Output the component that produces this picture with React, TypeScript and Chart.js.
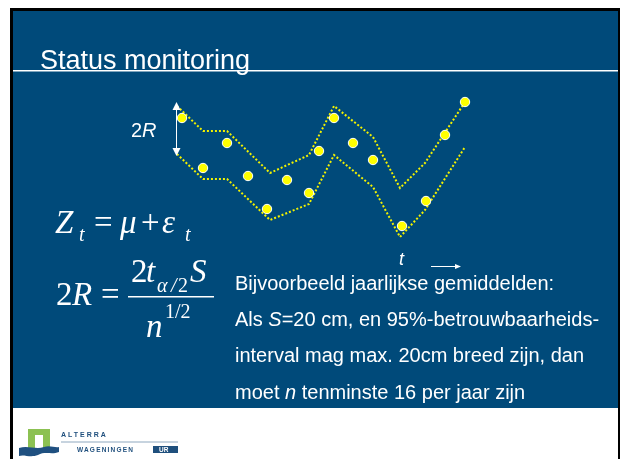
import React, { useEffect, useRef } from "react";
import { Chart, registerables } from "chart.js";

Chart.register(...registerables);

// ---- data (time index / value, arbitrary units) ----
const timeIndex = [1.2, 3.3, 5.7, 7.8, 9.7, 11.7, 13.9, 14.9, 16.4, 18.3, 20.3, 23.2, 25.6, 27.5, 29.5];
const yearlyValues = [13.2, 8.2, 10.7, 7.4, 4.1, 7.0, 5.7, 9.9, 13.2, 10.7, 9.0, 2.4, 4.9, 11.5, 14.8];
const bandTimes = [0.7, 3.3, 5.7, 10.0, 13.9, 16.4, 20.3, 23.0, 25.5, 29.5];
const upperBand = [14.4, 11.9, 11.9, 7.7, 9.5, 14.4, 11.3, 6.2, 8.7, 14.8];
const lowerBand = [9.6, 7.1, 7.1, 3.0, 4.6, 9.5, 6.3, 1.3, 4.0, 10.3];

const titleText = "Status monitoring";
const bodyLines: { t: string; i?: boolean }[][] = [
  [{ t: "Bijvoorbeeld jaarlijkse gemiddelden:" }],
  [{ t: "Als " }, { t: "S", i: true }, { t: "=20 cm, en 95%-betrouwbaarheids-" }],
  [{ t: "interval mag max. 20cm breed zijn, dan" }],
  [{ t: "moet " }, { t: "n", i: true }, { t: " tenminste 16 per jaar zijn" }],
];

const BLUE = "#004a7a";
const YELLOW = "#ffff00";
const SANS = "'Liberation Sans', Arial, sans-serif";
const SERIF = "'Liberation Serif', 'Times New Roman', serif";

const slidePlugin = {
  id: "slide",
  beforeDraw(chart: any) {
    const ctx = chart.ctx as CanvasRenderingContext2D;
    ctx.save();
    ctx.fillStyle = "#ffffff";
    ctx.fillRect(0, 0, 620, 459);
    ctx.fillStyle = "#000000";
    ctx.fillRect(10, 8, 610, 3);
    ctx.fillRect(10, 8, 3, 451);
    ctx.fillRect(618, 8, 2, 451);
    ctx.fillStyle = BLUE;
    ctx.fillRect(13, 11, 605, 397);
    // title rule
    ctx.fillStyle = "#ffffff";
    ctx.fillRect(13, 70, 605, 1.5);
    ctx.restore();
  },
  afterDraw(chart: any) {
    const ctx = chart.ctx as CanvasRenderingContext2D;
    ctx.save();
    ctx.fillStyle = "#ffffff";
    ctx.textBaseline = "alphabetic";
    ctx.textAlign = "left";

    const txt = (s: string, x: number, y: number, font: string) => {
      ctx.font = font;
      ctx.fillText(s, x, y);
    };

    // title
    txt(titleText, 40, 69, `27px ${SANS}`);

    // formula 1: Z_t = mu + eps_t
    const big = 33;
    txt("Z", 55, 233, `italic ${big}px ${SERIF}`);
    txt("t", 79, 241, `italic 20px ${SERIF}`);
    txt("=", 94, 233, `${big}px ${SERIF}`);
    txt("\u03bc", 120, 233, `italic ${big}px ${SERIF}`);
    txt("+", 141, 233, `${big}px ${SERIF}`);
    txt("\u03b5", 162, 233, `italic ${big}px ${SERIF}`);
    txt("t", 185, 241, `italic 20px ${SERIF}`);

    // formula 2: 2R = 2 t_{a/2} S / n^{1/2}
    txt("2", 56, 305, `${big}px ${SERIF}`);
    txt("R", 72, 305, `italic ${big}px ${SERIF}`);
    txt("=", 101, 305, `${big}px ${SERIF}`);
    ctx.fillRect(128, 296, 86, 1.5);
    txt("2", 131, 282, `${big}px ${SERIF}`);
    txt("t", 146, 282, `italic ${big}px ${SERIF}`);
    txt("\u03b1", 157, 292, `italic 20px ${SERIF}`);
    txt("/", 171, 292, `italic 20px ${SERIF}`);
    txt("2", 178, 292, `20px ${SERIF}`);
    txt("S", 190, 282, `italic ${big}px ${SERIF}`);
    txt("n", 146, 337, `italic ${big}px ${SERIF}`);
    txt("1/2", 165, 318, `20px ${SERIF}`);

    // 2R annotation and arrow
    txt("2", 131, 137, `20px ${SANS}`);
    txt("R", 142, 137, `italic 20px ${SANS}`);
    ctx.strokeStyle = "#ffffff";
    ctx.lineWidth = 1;
    ctx.beginPath();
    ctx.moveTo(176.5, 108);
    ctx.lineTo(176.5, 150);
    ctx.stroke();
    ctx.beginPath();
    ctx.moveTo(176.5, 102);
    ctx.lineTo(172.5, 110);
    ctx.lineTo(180.5, 110);
    ctx.closePath();
    ctx.fill();
    ctx.beginPath();
    ctx.moveTo(176.5, 156);
    ctx.lineTo(172.5, 148);
    ctx.lineTo(180.5, 148);
    ctx.closePath();
    ctx.fill();

    // t annotation and arrow
    txt("t", 399, 265, `italic 18px ${SANS}`);
    ctx.beginPath();
    ctx.moveTo(431, 266.5);
    ctx.lineTo(456, 266.5);
    ctx.stroke();
    ctx.beginPath();
    ctx.moveTo(461, 266.5);
    ctx.lineTo(455, 264);
    ctx.lineTo(455, 269);
    ctx.closePath();
    ctx.fill();

    // body text
    const baselines = [290, 326, 362, 399];
    bodyLines.forEach((segs, li) => {
      let x = 235;
      segs.forEach((sg) => {
        ctx.font = `${sg.i ? "italic " : ""}20px ${SANS}`;
        ctx.fillText(sg.t, x, baselines[li]);
        x += ctx.measureText(sg.t).width;
      });
    });

    // logo
    ctx.fillStyle = "#8cc152";
    ctx.fillRect(28, 429, 22, 20);
    ctx.fillStyle = "#ffffff";
    ctx.fillRect(35, 435, 8, 14);
    ctx.fillStyle = "#1f5080";
    ctx.beginPath();
    ctx.moveTo(19, 448);
    ctx.bezierCurveTo(28, 445, 36, 450, 44, 447);
    ctx.bezierCurveTo(50, 445, 55, 448, 59, 447);
    ctx.lineTo(59, 452);
    ctx.bezierCurveTo(52, 455, 45, 451, 38, 455);
    ctx.bezierCurveTo(30, 458, 24, 454, 19, 456);
    ctx.closePath();
    ctx.fill();
    ctx.fillStyle = "#1f4f7d";
    (ctx as any).letterSpacing = "2px";
    ctx.font = `bold 7px ${SANS}`;
    ctx.fillText("ALTERRA", 61, 437);
    (ctx as any).letterSpacing = "1.2px";
    ctx.font = `bold 6.5px ${SANS}`;
    ctx.fillText("WAGENINGEN", 77, 452);
    (ctx as any).letterSpacing = "0px";
    ctx.strokeStyle = "#8fa8bf";
    ctx.beginPath();
    ctx.moveTo(61, 442);
    ctx.lineTo(178, 442);
    ctx.stroke();
    ctx.fillStyle = "#1f4f7d";
    ctx.fillRect(153, 446, 25, 7);
    ctx.fillStyle = "#ffffff";
    ctx.font = `bold 6.5px ${SANS}`;
    ctx.fillText("UR", 159, 452);

    ctx.restore();
  },
};

export default function App() {
  const ref = useRef<HTMLCanvasElement | null>(null);
  useEffect(() => {
    if (!ref.current) return;
    const pts = timeIndex.map((x, i) => ({ x, y: yearlyValues[i] }));
    const up = bandTimes.map((x, i) => ({ x, y: upperBand[i] }));
    const lo = bandTimes.map((x, i) => ({ x, y: lowerBand[i] }));
    const chart = new Chart(ref.current, {
      type: "scatter",
      data: {
        datasets: [
          {
            data: pts,
            order: 0,
            backgroundColor: YELLOW,
            borderColor: "#ffffff",
            borderWidth: 1,
            pointRadius: 4.7,
            clip: false,
          } as any,
          {
            data: up,
            order: 1,
            showLine: true,
            borderColor: "#f2f200",
            borderWidth: 2,
            borderDash: [2, 2],
            pointRadius: 0,
            clip: false,
          } as any,
          {
            data: lo,
            order: 1,
            showLine: true,
            borderColor: "#f2f200",
            borderWidth: 2,
            borderDash: [2, 2],
            pointRadius: 0,
            clip: false,
          } as any,
        ],
      },
      options: {
        responsive: false,
        animation: false,
        devicePixelRatio: 1,
        layout: { padding: { left: 170, top: 90, right: 150, bottom: 209 } },
        scales: {
          x: { type: "linear", min: 0, max: 30, display: false },
          y: { type: "linear", min: 0, max: 16, display: false },
        },
        plugins: { legend: { display: false }, tooltip: { enabled: false } },
      },
      plugins: [slidePlugin],
    });
    return () => chart.destroy();
  }, []);
  return (
    <div style={{ position: "absolute", left: 0, top: 0, width: 620, height: 459 }}>
      <canvas ref={ref} width={620} height={459} style={{ width: 620, height: 459, display: "block" }} />
    </div>
  );
}
